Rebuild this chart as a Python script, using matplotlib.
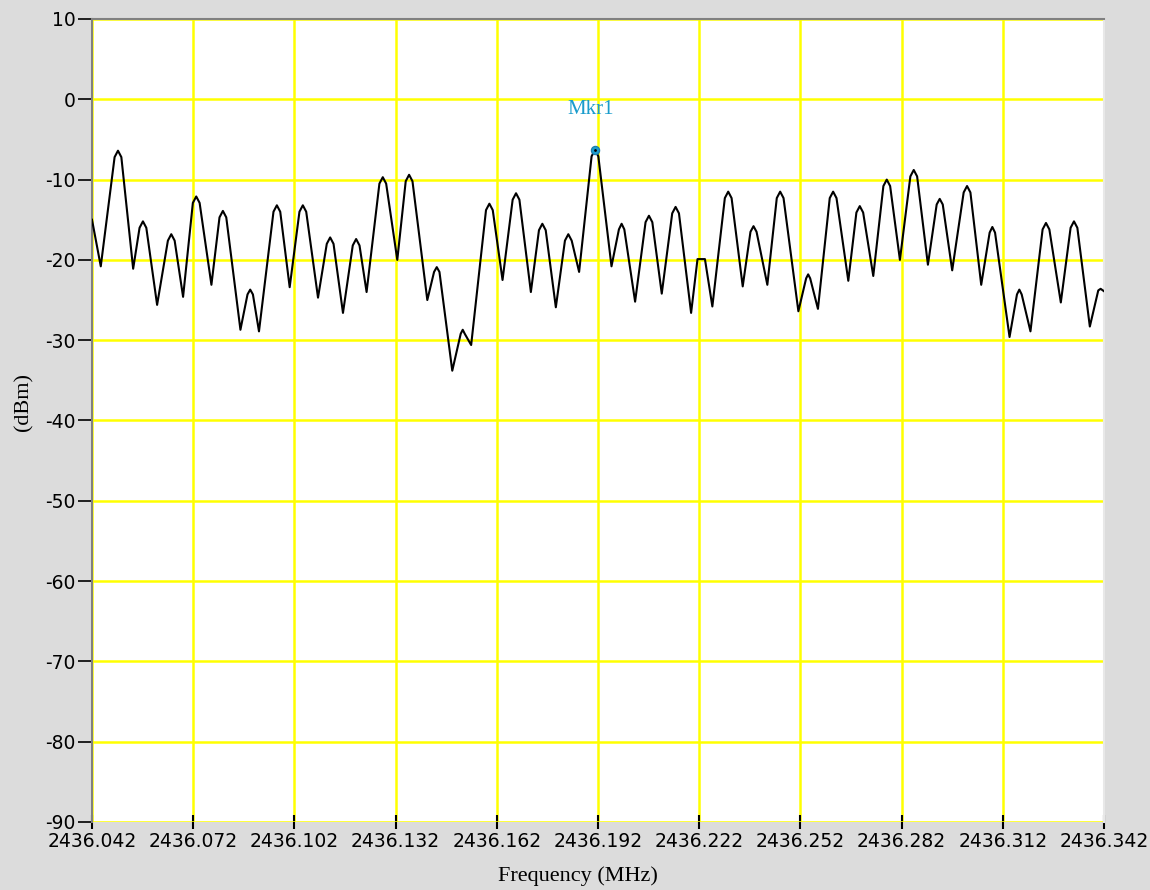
import matplotlib
matplotlib.use("Agg")
import matplotlib.pyplot as plt

freq_mhz = [2436.0420, 2436.0446,
            2436.0487, 2436.0497, 2436.0507, 2436.0542,
            2436.0561, 2436.0571, 2436.0581, 2436.0613,
            2436.0645, 2436.0655, 2436.0665, 2436.0690,
            2436.0719, 2436.0729, 2436.0739, 2436.0774,
            2436.0798, 2436.0808, 2436.0818, 2436.0860,
            2436.0881, 2436.0889, 2436.0897, 2436.0915,
            2436.0958, 2436.0968, 2436.0978, 2436.1006,
            2436.1035, 2436.1045, 2436.1055, 2436.1090,
            2436.1116, 2436.1126, 2436.1136, 2436.1164,
            2436.1193, 2436.1203, 2436.1213, 2436.1234,
            2436.1272, 2436.1282, 2436.1292, 2436.1325,
            2436.1350, 2436.1360, 2436.1370, 2436.1414,
            2436.1434, 2436.1442, 2436.1450, 2436.1488,
            2436.1513, 2436.1519, 2436.1525, 2436.1544,
            2436.1588, 2436.1598, 2436.1608, 2436.1637,
            2436.1667, 2436.1677, 2436.1687, 2436.1721,
            2436.1745, 2436.1755, 2436.1765, 2436.1795,
            2436.1822, 2436.1832, 2436.1842, 2436.1864,
            2436.1901, 2436.1911, 2436.1921, 2436.1960,
            2436.1982, 2436.1990, 2436.1998, 2436.2030,
            2436.2061, 2436.2071, 2436.2081, 2436.2109,
            2436.2140, 2436.2150, 2436.2160, 2436.2196,
            2436.2215, 2436.2237, 2436.2259,
            2436.2296, 2436.2306, 2436.2316, 2436.2349,
            2436.2372, 2436.2381, 2436.2390, 2436.2422,
            2436.2450, 2436.2460, 2436.2470, 2436.2514,
            2436.2537, 2436.2543, 2436.2549, 2436.2572,
            2436.2607, 2436.2617, 2436.2627, 2436.2662,
            2436.2686, 2436.2696, 2436.2706, 2436.2736,
            2436.2766, 2436.2776, 2436.2786, 2436.2815,
            2436.2846, 2436.2856, 2436.2866, 2436.2898,
            2436.2924, 2436.2933, 2436.2942, 2436.2970,
            2436.3004, 2436.3014, 2436.3024, 2436.3056,
            2436.3081, 2436.3089, 2436.3097, 2436.3140,
            2436.3162, 2436.3169, 2436.3176, 2436.3202,
            2436.3238, 2436.3248, 2436.3258, 2436.3292,
            2436.3321, 2436.3331, 2436.3341, 2436.3378,
            2436.3403, 2436.3410, 2436.3420]
power_dbm = [-15.0, -20.8,
             -7.2, -6.4, -7.2, -21.1,
             -16.0, -15.2, -16.0, -25.6,
             -17.6, -16.8, -17.6, -24.6,
             -12.9, -12.1, -12.9, -23.1,
             -14.7, -13.9, -14.7, -28.7,
             -24.3, -23.7, -24.3, -28.9,
             -14.0, -13.2, -14.0, -23.4,
             -14.0, -13.2, -14.0, -24.7,
             -18.0, -17.2, -18.0, -26.6,
             -18.2, -17.4, -18.2, -24.0,
             -10.5, -9.7, -10.5, -20.0,
             -10.2, -9.4, -10.2, -25.0,
             -21.5, -20.9, -21.5, -33.8,
             -29.2, -28.7, -29.2, -30.6,
             -13.8, -13.0, -13.8, -22.5,
             -12.5, -11.7, -12.5, -24.0,
             -16.3, -15.5, -16.3, -25.9,
             -17.6, -16.8, -17.6, -21.5,
             -7.1, -6.3, -7.1, -20.8,
             -16.2, -15.5, -16.2, -25.2,
             -15.3, -14.5, -15.3, -24.2,
             -14.2, -13.4, -14.2, -26.6,
             -19.9, -19.9, -25.8,
             -12.3, -11.5, -12.3, -23.3,
             -16.5, -15.8, -16.5, -23.1,
             -12.3, -11.5, -12.3, -26.4,
             -22.3, -21.8, -22.3, -26.1,
             -12.3, -11.5, -12.3, -22.6,
             -14.1, -13.3, -14.1, -22.0,
             -10.8, -10.0, -10.8, -20.0,
             -9.6, -8.8, -9.6, -20.6,
             -13.1, -12.4, -13.1, -21.3,
             -11.6, -10.8, -11.6, -23.1,
             -16.6, -15.9, -16.6, -29.6,
             -24.3, -23.7, -24.3, -28.9,
             -16.2, -15.4, -16.2, -25.3,
             -16.0, -15.2, -16.0, -28.3,
             -23.8, -23.6, -23.9]

marker_freq = 2436.1911
marker_dbm = -6.3
marker_label = "Mkr1"

x_ticks = [2436.042, 2436.072, 2436.102, 2436.132, 2436.162, 2436.192,
           2436.222, 2436.252, 2436.282, 2436.312, 2436.342]
x_tick_labels = ["2436.042", "2436.072", "2436.102", "2436.132", "2436.162", "2436.192",
                 "2436.222", "2436.252", "2436.282", "2436.312", "2436.342"]
y_ticks = [10, 0, -10, -20, -30, -40, -50, -60, -70, -80, -90]

bg = "#dcdcdc"
fig = plt.figure(figsize=(11.5, 8.9), dpi=100, facecolor=bg)
ax = fig.add_axes([92/1150, 1 - 822/890, (1104 - 92)/1150, (822 - 19)/890])
ax.set_facecolor("white")

ax.set_xlim(2436.042, 2436.342)
ax.set_ylim(-90, 10)
ax.set_xticks(x_ticks)
ax.set_xticklabels(x_tick_labels)
ax.set_yticks(y_ticks)
ax.set_yticklabels([str(v) for v in y_ticks])

ax.grid(True, color="#ffff00", linewidth=1.8, zorder=0)
ax.set_axisbelow(True)

ax.plot(freq_mhz, power_dbm, color="black", linewidth=1.5, zorder=3)
ax.plot([marker_freq], [marker_dbm], marker="o", markersize=6, markerfacecolor="#1a9ccc",
        markeredgecolor="#1a7aa8", markeredgewidth=0.8, zorder=4)
ax.plot([marker_freq], [marker_dbm], marker=".", markersize=2, color="black", zorder=5)
ax.text(marker_freq - 0.0013, -1.3, marker_label, color="#1a9ccc", fontsize=15,
        family="Liberation Serif", ha="center", va="center")

for s in ["left", "top"]:
    ax.spines[s].set_color("#808080")
    ax.spines[s].set_linewidth(1.5)
ax.spines["right"].set_color("#e8e8e8")
ax.spines["right"].set_linewidth(1.5)
ax.spines["bottom"].set_visible(False)

ax.tick_params(axis="y", direction="out", length=10, width=1.2, color="black",
               labelsize=13.5, pad=2)
ax.tick_params(axis="x", direction="inout", length=10, width=1.5, color="black",
               labelsize=13.5, pad=2)
for lab in ax.get_xticklabels() + ax.get_yticklabels():
    lab.set_family("DejaVu Sans")

ax.set_xlabel("Frequency (MHz)", family="Liberation Serif", fontsize=16)
ax.set_ylabel("(dBm)", family="Liberation Serif", fontsize=16)
ax.xaxis.set_label_coords((578 - 92) / 1012, -(866 - 822) / 803)
ax.yaxis.set_label_coords(-(92 - 33) / 1012, (822 - 402) / 803)

fig.savefig("out.png", dpi=100, facecolor=bg)
